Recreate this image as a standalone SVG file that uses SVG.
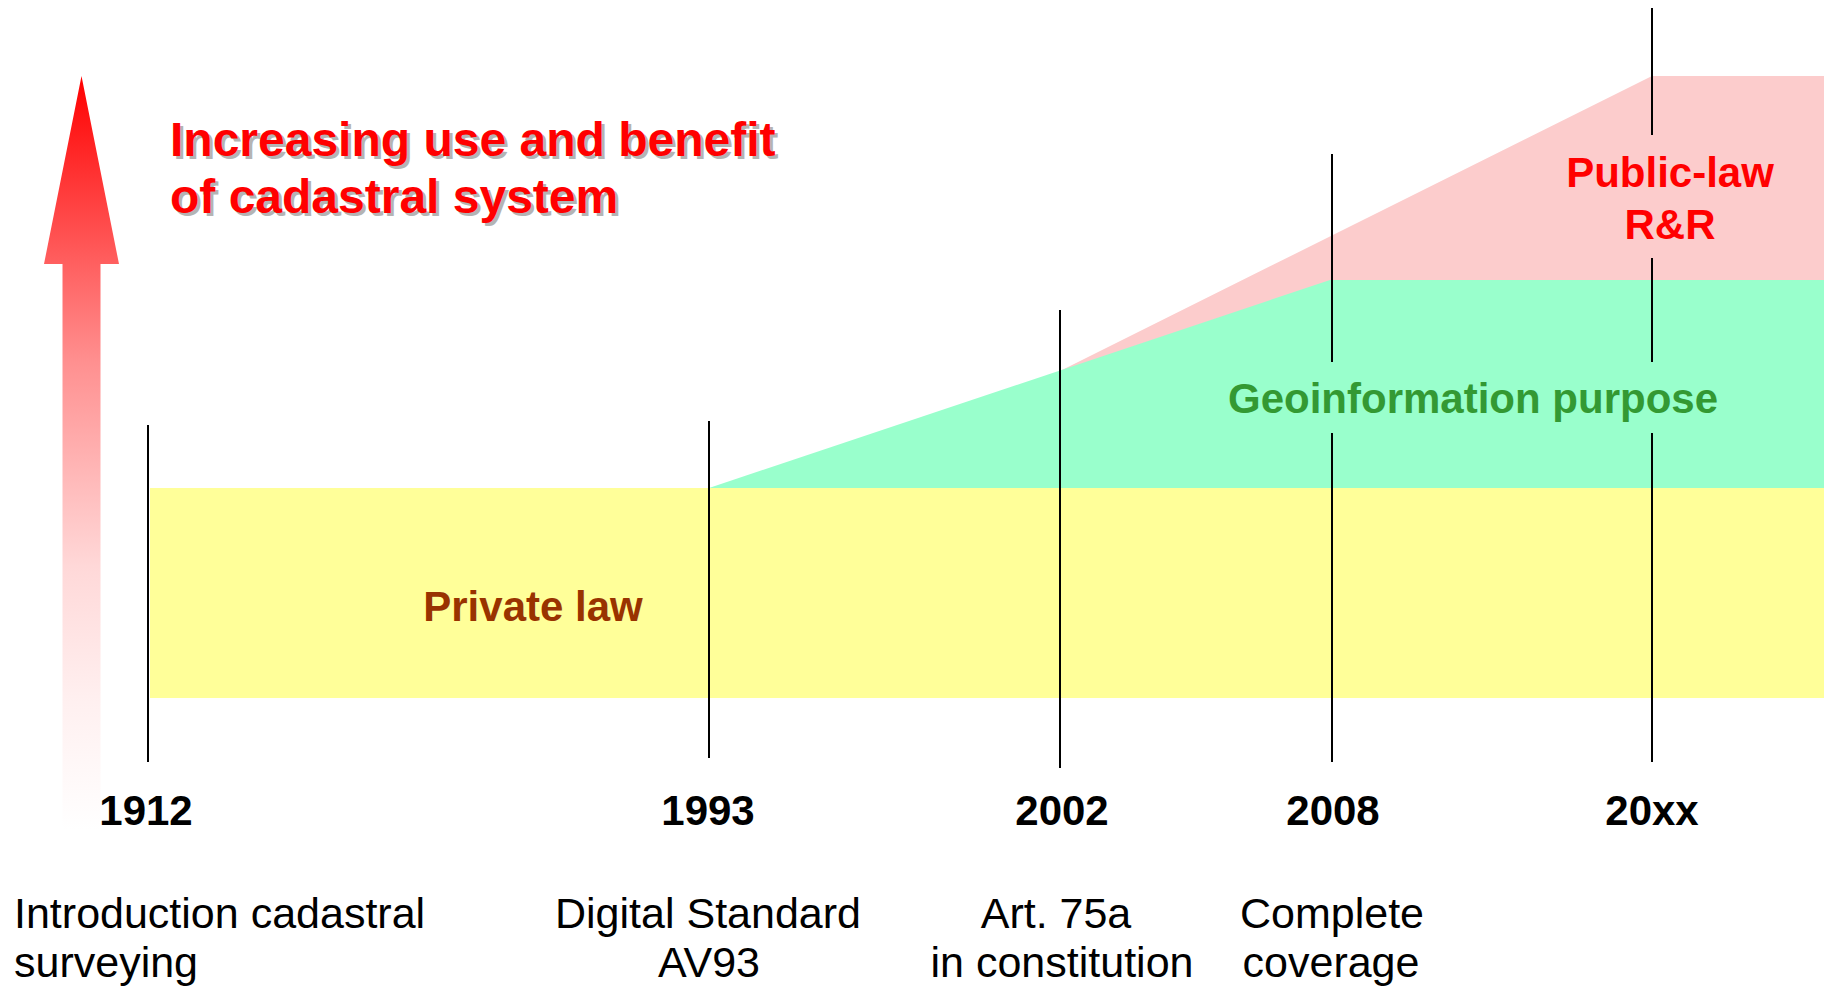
<svg xmlns="http://www.w3.org/2000/svg" width="1824" height="987" viewBox="0 0 1824 987">
<style>
text{font-family:"Liberation Sans",Arial,sans-serif}
.b{font-weight:bold}
.yr{font-weight:bold;font-size:42px;fill:#000;text-anchor:middle}
.lb{font-size:43px;fill:#000;text-anchor:middle}
.tl{stroke:#000;stroke-width:2;fill:none}
.title{font-weight:bold;font-size:48px;fill:#FF0000}
.shadow{font-weight:bold;font-size:48px;fill:#B4B4B4}
</style>
<defs>
<linearGradient id="arrowGrad" x1="0" y1="76" x2="0" y2="830" gradientUnits="userSpaceOnUse">
<stop offset="0" stop-color="#FF0000"/>
<stop offset="0.25" stop-color="#FF6060"/>
<stop offset="0.38" stop-color="#FF9090"/>
<stop offset="0.65" stop-color="#FFD8D8"/>
<stop offset="0.83" stop-color="#FFF0F0"/>
<stop offset="1" stop-color="#FFFFFF"/>
</linearGradient>
</defs>
<rect width="1824" height="987" fill="#FFFFFF"/>

<g id="bands">
<polygon id="public-law-band" points="1060,371 1652,76 1824,76 1824,300 1300,300" fill="#FCCCCC"/>
<polygon id="geoinfo-band" points="709,488 1330,280 1824,280 1824,489 709,489" fill="#99FFCC"/>
<rect id="private-law-band" x="150" y="488" width="1674" height="210" fill="#FFFF99"/>
</g>

<g id="arrow">
<polygon points="81.5,76 119,264 100.5,264 100.5,830 62.5,830 62.5,264 44,264" fill="url(#arrowGrad)"/>
</g>

<g id="title">
<text class="shadow" x="173" y="159">Increasing use and benefit</text>
<text class="shadow" x="173" y="216">of cadastral system</text>
<text class="title" x="170" y="156">Increasing use and benefit</text>
<text class="title" x="170" y="213">of cadastral system</text>
</g>

<g id="connectors">
<line class="tl" x1="148" y1="425" x2="148" y2="762"/>
<line class="tl" x1="709" y1="421" x2="709" y2="758"/>
<line class="tl" x1="1060" y1="310" x2="1060" y2="768"/>
<line class="tl" x1="1332" y1="154" x2="1332" y2="362"/>
<line class="tl" x1="1332" y1="433" x2="1332" y2="762"/>
<line class="tl" x1="1652" y1="8" x2="1652" y2="135"/>
<line class="tl" x1="1652" y1="258" x2="1652" y2="362"/>
<line class="tl" x1="1652" y1="433" x2="1652" y2="762"/>
</g>

<g id="label-public-law">
<text class="b" x="1670" y="187" font-size="42" fill="#FF0000" text-anchor="middle">Public-law</text>
<text class="b" x="1670" y="239" font-size="42" fill="#FF0000" text-anchor="middle">R&amp;R</text>
</g>
<g id="label-geoinfo">
<text class="b" x="1473" y="413" font-size="42" fill="#339933" text-anchor="middle">Geoinformation purpose</text>
</g>
<g id="label-private-law">
<text class="b" x="533" y="621" font-size="42" fill="#993300" text-anchor="middle">Private law</text>
</g>

<g id="node-1912">
<text class="yr" x="146" y="825">1912</text>
<text x="14" y="928" font-size="43" fill="#000">Introduction cadastral</text>
<text x="14" y="977" font-size="43" fill="#000">surveying</text>
</g>
<g id="node-1993">
<text class="yr" x="708" y="825">1993</text>
<text class="lb" x="708" y="928">Digital Standard</text>
<text class="lb" x="709" y="977">AV93</text>
</g>
<g id="node-2002">
<text class="yr" x="1062" y="825">2002</text>
<text class="lb" x="1056" y="928">Art. 75a</text>
<text class="lb" x="1062" y="977">in constitution</text>
</g>
<g id="node-2008">
<text class="yr" x="1333" y="825">2008</text>
<text class="lb" x="1332" y="928">Complete</text>
<text class="lb" x="1331" y="977">coverage</text>
</g>
<g id="node-20xx">
<text class="yr" x="1652" y="825">20xx</text>
</g>
</svg>
